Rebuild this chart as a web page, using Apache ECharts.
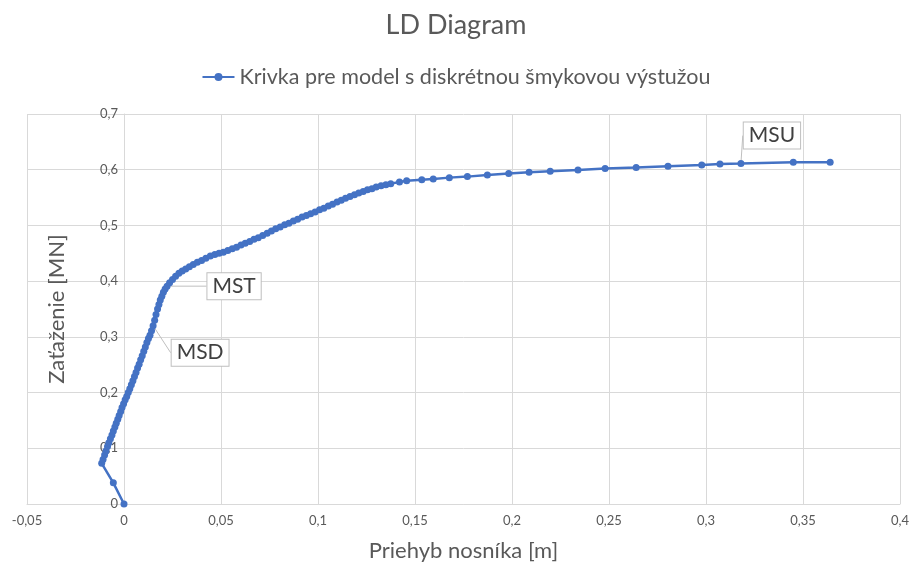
<!DOCTYPE html>
<html>
<head>
<meta charset="utf-8">
<script src="https://cdn.jsdelivr.net/npm/echarts@6/dist/echarts.min.js"></script>
<style>
html,body{margin:0;padding:0;background:#fff;}
#c{width:912px;height:567px;}
</style>
</head>
<body>
<div id="c"></div>
<script>
var titleText = 'LD Diagram';
var seriesName = 'Krivka pre model s diskrétnou šmykovou výstužou';
var xName = 'Priehyb nosníka [m]';
var yName = 'Zaťaženie [MN]';

// deflection [m]
var deflection = [
  0.0000, -0.0055, -0.0115,
  -0.0108, -0.0100, -0.0093, -0.0085, -0.0078, -0.0070, -0.0062, -0.0055, -0.0047, -0.0040,
  -0.0032, -0.0025, -0.0017, -0.0010, -0.0002, 0.0006, 0.0014, 0.0022, 0.0030, 0.0038,
  0.0046, 0.0054, 0.0062, 0.0070, 0.0078, 0.0086, 0.0094, 0.0102, 0.0110, 0.0118, 0.0126,
  0.0134, 0.0142, 0.0150, 0.0158, 0.0165, 0.0173, 0.0180, 0.0187, 0.0195, 0.0203, 0.0212,
  0.0222, 0.0235, 0.0250, 0.0266, 0.0283, 0.0300, 0.0318, 0.0337, 0.0357, 0.0378, 0.0400,
  0.0422, 0.0445, 0.0468, 0.0490, 0.0512, 0.0535, 0.0558, 0.0580, 0.0603, 0.0625, 0.0648,
  0.0670, 0.0692, 0.0715, 0.0738, 0.0760, 0.0782, 0.0805, 0.0828, 0.0850, 0.0873, 0.0895,
  0.0918, 0.0940, 0.0962, 0.0985, 0.1008, 0.1030, 0.1053, 0.1075, 0.1098, 0.1120, 0.1142,
  0.1165, 0.1188, 0.1210, 0.1233, 0.1255, 0.1278, 0.1300, 0.1325, 0.1350, 0.1375, 0.1420,
  0.1457, 0.1535, 0.1594, 0.1677, 0.1770, 0.1873, 0.1983, 0.2088, 0.2197, 0.2340, 0.2480,
  0.2640, 0.2804, 0.2978, 0.3072, 0.3180, 0.3450, 0.3640
];
// load [MN]
var load = [
  0.000, 0.038, 0.073,
  0.080, 0.088, 0.095, 0.103, 0.110, 0.117, 0.124, 0.131, 0.138, 0.145,
  0.152, 0.159, 0.166, 0.173, 0.180, 0.187, 0.193, 0.200, 0.207, 0.214,
  0.221, 0.229, 0.236, 0.244, 0.251, 0.259, 0.266, 0.274, 0.282, 0.290, 0.297,
  0.303, 0.311, 0.320, 0.330, 0.340, 0.350, 0.358, 0.366, 0.373, 0.380, 0.386,
  0.391, 0.397, 0.403, 0.409, 0.414, 0.418, 0.422, 0.426, 0.430, 0.434, 0.437,
  0.441, 0.445, 0.448, 0.450, 0.452, 0.455, 0.458, 0.461, 0.465, 0.468, 0.471,
  0.475, 0.478, 0.482, 0.486, 0.490, 0.494, 0.497, 0.501, 0.504, 0.508, 0.511,
  0.515, 0.518, 0.521, 0.524, 0.528, 0.531, 0.535, 0.538, 0.542, 0.545, 0.549,
  0.552, 0.555, 0.558, 0.561, 0.564, 0.566, 0.569, 0.571, 0.573, 0.575, 0.578,
  0.580, 0.582, 0.5835, 0.5858, 0.5876, 0.5907, 0.593, 0.5955, 0.5973, 0.5996, 0.602,
  0.6038, 0.6063, 0.6086, 0.6104, 0.611, 0.6135, 0.6135
];
// callout labels: [index into arrays, text]
var callouts = [[36, 'MSD'], [45, 'MST'], [115, 'MSU']];
var calloutShift = {MSD: [47, 27], MST: [67, 0], MSU: [31, -28]};

var data = deflection.map(function (x, i) { return [x, load[i]]; });
function calloutAt(i) { return callouts.filter(function (k) { return k[0] === i; })[0]; }
var dataItems = data.map(function (p, i) {
  var c = calloutAt(i);
  if (!c) return p;
  return {
    value: p,
    label: {
      show: true, position: 'inside', formatter: c[1],
      fontSize: 21, color: '#404040', fontFamily: 'Lato',
      backgroundColor: '#fff', borderColor: '#bfbfbf', borderWidth: 1,
      padding: [3, 5, 2, 5]
    },
    labelLine: { show: true, lineStyle: { color: '#bfbfbf', width: 1 } }
  };
});

function fmt(v) { return String(+(+v).toFixed(3)).replace('.', ','); }

var gridLeft = 27;
var chart = echarts.init(document.getElementById('c'));
chart.setOption({
  animation: false,
  textStyle: { fontFamily: 'Lato' },
  title: {
    text: titleText, left: 'center', top: 7,
    textStyle: { fontSize: 27, fontWeight: 'normal', color: '#595959', fontFamily: 'Lato' }
  },
  legend: {
    top: 61, left: 'center', itemWidth: 32, itemHeight: 10, itemGap: 5,
    textStyle: { fontSize: 21.5, color: '#595959', fontFamily: 'Lato' },
    data: [seriesName]
  },
  grid: { left: gridLeft, right: 12, top: 114, bottom: 63, containLabel: false, outerBoundsMode: 'none' },
  xAxis: {
    type: 'value', min: -0.05, max: 0.4, interval: 0.05,
    name: xName, nameLocation: 'middle', nameGap: 36,
    nameTextStyle: { fontSize: 22, color: '#595959', fontFamily: 'Lato' },
    axisLine: { show: true, onZero: false, lineStyle: { color: '#d9d9d9' } },
    axisTick: { show: false },
    axisLabel: { fontSize: 13, color: '#595959', margin: 10, formatter: fmt },
    splitLine: { show: true, lineStyle: { color: '#d9d9d9' } }
  },
  yAxis: {
    type: 'value', min: 0, max: 0.7, interval: 0.1,
    name: yName, nameLocation: 'middle', nameGap: 56,
    nameTextStyle: { fontSize: 22, color: '#595959', fontFamily: 'Lato' },
    axisLine: { show: true, onZero: true, lineStyle: { color: '#d9d9d9' } },
    axisTick: { show: false },
    axisLabel: { fontSize: 13, color: '#595959', margin: 6, formatter: fmt },
    splitLine: { show: true, lineStyle: { color: '#d9d9d9' } }
  },
  series: [{
    name: seriesName, type: 'line', data: dataItems,
    symbol: 'circle', symbolSize: 7,
    itemStyle: { color: '#4472C4' },
    lineStyle: { color: '#4472C4', width: 2.5 },
    labelLine: { show: true, lineStyle: { color: '#bfbfbf', width: 1 } },
    labelLayout: function (params) {
      var c = calloutAt(params.dataIndex);
      if (!c) return {};
      return { dx: calloutShift[c[1]][0], dy: calloutShift[c[1]][1] };
    },
    emphasis: { disabled: true }
  }]
});
// place the value axis where x = 0 (Excel-style crossing)
var zeroPx = chart.convertToPixel({ xAxisIndex: 0 }, 0);
chart.setOption({ yAxis: { offset: -(zeroPx - gridLeft) } });
</script>
</body>
</html>
